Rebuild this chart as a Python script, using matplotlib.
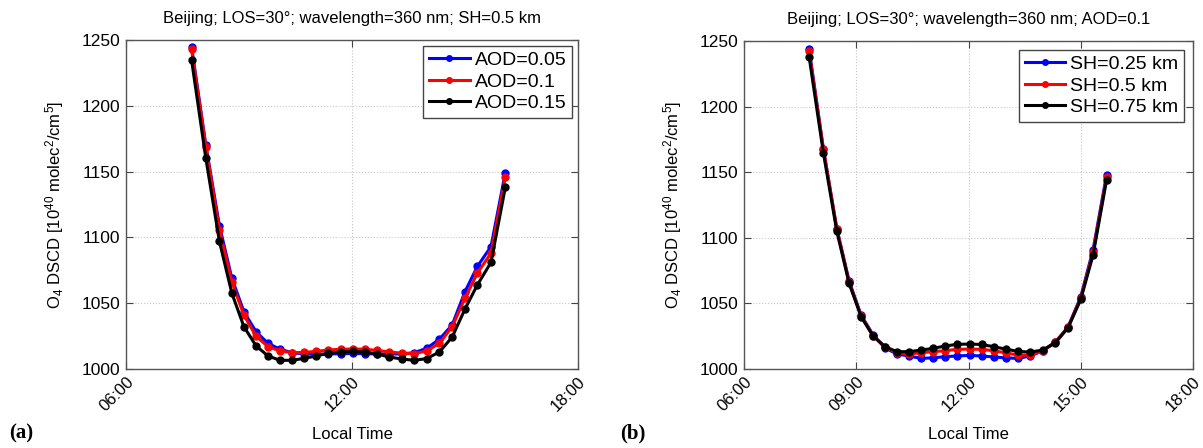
import matplotlib
matplotlib.use("Agg")
import matplotlib.pyplot as plt

plt.rcParams['font.family'] = ['Liberation Sans', 'DejaVu Sans']
plt.rcParams['mathtext.fontset'] = 'custom'
plt.rcParams['mathtext.rm'] = 'Liberation Sans'
plt.rcParams['mathtext.it'] = 'Liberation Sans:italic'
plt.rcParams['mathtext.bf'] = 'Liberation Sans:bold'

# Local time (decimal hours) of each simulated point, panel (a)
times_a = [7.74, 8.12, 8.48, 8.81, 9.13, 9.45, 9.77, 10.09, 10.41, 10.73, 11.05, 11.37, 11.70,
           12.03, 12.35, 12.67, 12.99, 13.32, 13.65, 13.98, 14.32, 14.66, 15.00, 15.33, 15.69, 16.07]
# panel (b)
times_b = [7.74, 8.12, 8.48, 8.81, 9.13, 9.45, 9.77, 10.09, 10.41, 10.73, 11.05, 11.37, 11.70,
           12.03, 12.35, 12.67, 12.99, 13.32, 13.65, 13.98, 14.32, 14.66, 15.00, 15.33, 15.69]

# Panel (a): SH = 0.5 km, varying AOD
aod_005 = [1245, 1170, 1109, 1069, 1043.6, 1028.4, 1019.5, 1015.0, 1012.4, 1011.4, 1011.4, 1011.4, 1011.6,
           1011.8, 1011.6, 1011.4, 1011.4, 1011.4, 1012.4, 1015.7, 1022.6, 1033.5, 1058.8, 1078, 1093, 1149]
aod_010 = [1243, 1169, 1106, 1066, 1041.0, 1025.0, 1017.0, 1013.7, 1012.4, 1012.6, 1013.4, 1014.4, 1015.0,
           1015.2, 1015.0, 1014.1, 1013.0, 1012.0, 1011.7, 1013.7, 1019.5, 1032.2, 1053.8, 1073, 1088, 1146]
aod_015 = [1235, 1160, 1097, 1057.6, 1032.2, 1017.7, 1009.9, 1006.6, 1006.6, 1008.1, 1009.9, 1011.9, 1012.9,
           1013.4, 1012.9, 1011.4, 1009.1, 1007.6, 1006.6, 1007.9, 1012.9, 1024.3, 1045.6, 1064, 1081, 1138]

# Panel (b): AOD = 0.1, varying SH
sh_025 = [1244, 1168, 1107, 1067, 1041.0, 1026.0, 1016.0, 1011.4, 1009.9, 1008.1, 1008.5, 1009.4, 1009.9,
          1010.4, 1009.9, 1009.2, 1008.5, 1008.1, 1009.9, 1013.9, 1020.5, 1032.0, 1055, 1091, 1148]
sh_050 = [1242, 1168, 1107, 1066, 1040.5, 1025.5, 1016.5, 1012.4, 1011.4, 1012.4, 1013.2, 1013.9, 1015.0,
          1015.2, 1015.0, 1013.9, 1012.4, 1010.6, 1010.6, 1013.7, 1020.2, 1031.7, 1054, 1089, 1146]
sh_075 = [1238, 1165, 1105, 1065.2, 1039.8, 1025.1, 1017.0, 1013.2, 1013.2, 1014.4, 1015.7, 1017.5, 1018.8,
          1019.0, 1018.7, 1017.0, 1015.2, 1013.4, 1012.9, 1014.4, 1020.0, 1031.4, 1053, 1087, 1144]

labels_a = ['AOD=0.05', 'AOD=0.1', 'AOD=0.15']
labels_b = ['SH=0.25 km', 'SH=0.5 km', 'SH=0.75 km']
colors = ['#0000ff', '#ff0000', '#000000']
titles = ['Beijing; LOS=30°; wavelength=360 nm; SH=0.5 km',
          'Beijing; LOS=30°; wavelength=360 nm; AOD=0.1']
xticks_a = [6, 12, 18]
xticks_b = [6, 9, 12, 15, 18]
yticks = [1000, 1050, 1100, 1150, 1200, 1250]
panel_tags = ['(a)', '(b)']

W, H = 1203, 448
fig = plt.figure(figsize=(W / 100, H / 100), dpi=100)
ax_a = fig.add_axes([126 / W, 1 - 369 / H, (578 - 126) / W, (369 - 40) / H])
ax_b = fig.add_axes([744 / W, 1 - 369 / H, (1193 - 744) / W, (369 - 41) / H])


def hhmm(h):
    return '%02d:00' % h


def style(ax, times, series, labels, xticks, title, bpad):
    for ys, lab, c in zip(series, labels, colors):
        ax.plot(times, ys, '-o', color=c, lw=2.2, ms=5, label=lab)
    ax.set_xlim(6, 18)
    ax.set_ylim(1000, 1250)
    ax.set_xticks(xticks)
    ax.set_xticklabels([hhmm(h) for h in xticks], rotation=45, ha='right',
                       va='top', rotation_mode='anchor', fontsize=12)
    ax.set_yticks(yticks)
    ax.set_yticklabels([str(v) for v in yticks], fontsize=12.5)
    ax.tick_params(direction='in', top=True, right=True, length=5, width=0.8,
                   color='#444444', pad=4)
    for s in ax.spines.values():
        s.set_color('#555555')
        s.set_linewidth(1.0)
    ax.grid(True, ls=':', color='#c8c8c8', lw=0.8)
    ax.set_axisbelow(True)
    ax.set_title(title, fontsize=12, pad=12)
    ax.set_xlabel('Local Time', fontsize=12, labelpad=9)
    ax.set_ylabel('O$_4$ DSCD [10$^{40}$ molec$^2$/cm$^5$]', fontsize=12, labelpad=11)
    leg = ax.legend(loc='upper right', fontsize=14, fancybox=False, framealpha=1,
                    edgecolor='#444444', handlelength=2.1, handletextpad=0.25,
                    labelspacing=0.2, borderpad=0.3, markerscale=0.8,
                    borderaxespad=bpad)
    leg.get_frame().set_linewidth(1.0)


style(ax_a, times_a, [aod_005, aod_010, aod_015], labels_a, xticks_a, titles[0], 0.3)
style(ax_b, times_b, [sh_025, sh_050, sh_075], labels_b, xticks_b, titles[1], 0.45)

fig.text(9 / W, 1 - 433 / H, panel_tags[0], fontsize=15, fontweight='bold',
         family='Liberation Serif', va='center', ha='left')
fig.text(620 / W, 1 - 433 / H, panel_tags[1], fontsize=15, fontweight='bold',
         family='Liberation Serif', va='center', ha='left')

fig.savefig('out.png', dpi=100)
